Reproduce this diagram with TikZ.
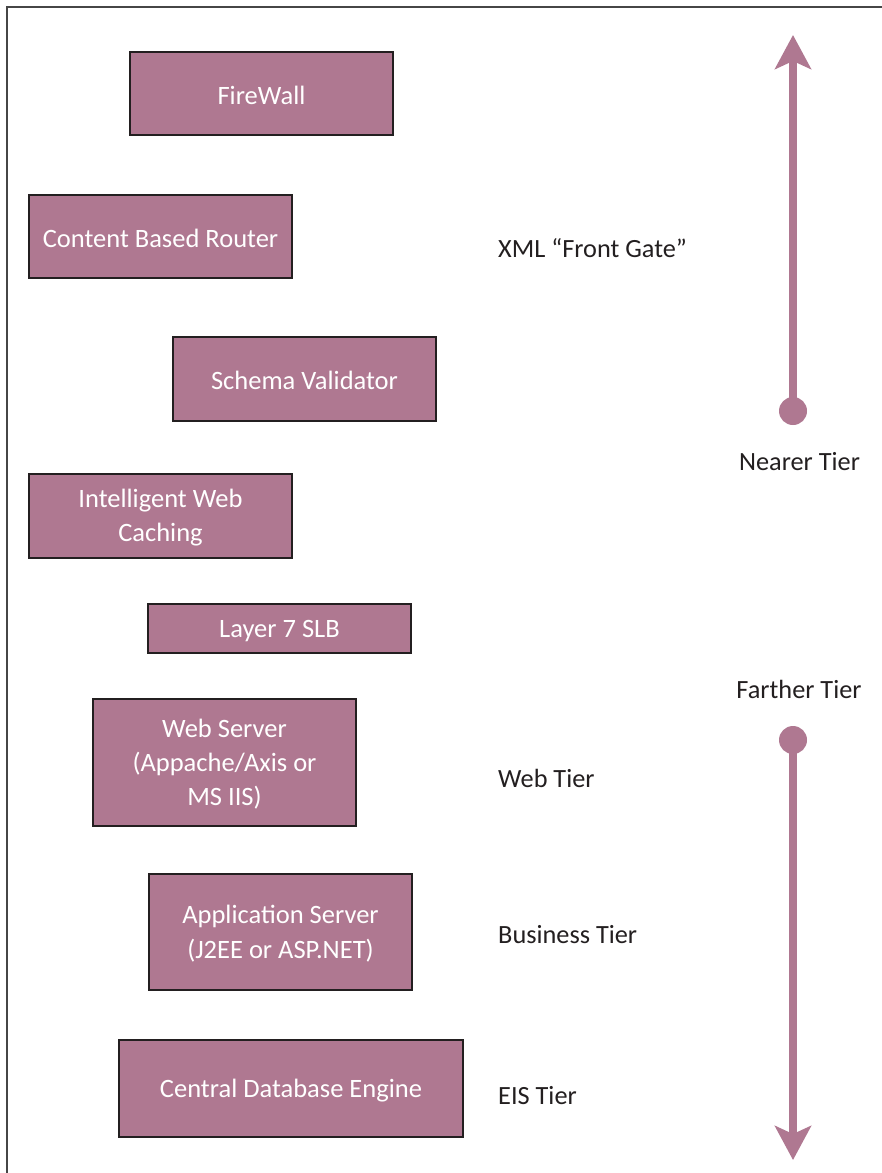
\documentclass[tikz,border=0pt]{standalone}
\usepackage{fontspec}
\setmainfont{Carlito}
\usetikzlibrary{arrows.meta}
\definecolor{mauve}{RGB}{175,120,145}
\definecolor{ink}{RGB}{35,31,32}
\definecolor{framec}{RGB}{70,70,70}
\newcommand{\toppad}{\rule{0pt}{21.8pt}}
\tikzset{
  tierbox/.style={draw=ink, line width=2pt, fill=mauve, text=white, align=center,
    font=\fontsize{26.5}{34.3}\selectfont, inner sep=0pt},
  tierlabel/.style={text=ink, font=\fontsize{26.3}{34.3}\selectfont, inner sep=0pt},
  dot/.style={circle, fill=mauve, minimum size=28pt, inner sep=0pt},
  bigarrow/.style={draw=mauve, line width=8pt, -{Stealth[length=34pt, width=36pt, inset=8pt]}},
}
\begin{document}
\begin{tikzpicture}[x=1pt,y=-1pt]
\useasboundingbox (0,0) rectangle (882,1173);
\fill[white] (0,0) rectangle (882,1173);
\draw[framec, line width=1.5pt] (7,1173) -- (7,7) -- (882,7);
% boxes
\node[tierbox, minimum width=263pt, minimum height=83pt] (fw) at (261.5,93.5) {\toppad FireWall};
\node[tierbox, minimum width=263pt, minimum height=83pt] (cbr) at (160.5,236.5) {\toppad Content Based Router};
\node[tierbox, minimum width=263pt, minimum height=84pt] (sv) at (304.5,379) {\toppad Schema Validator};
\node[tierbox, minimum width=263pt, minimum height=84pt] (iwc) at (160.5,516) {\toppad Intelligent Web\\Caching};
\node[tierbox, minimum width=263pt, minimum height=49pt] (slb) at (279.5,628.5) {\toppad Layer 7 SLB};
\node[tierbox, minimum width=263pt, minimum height=127pt] (ws) at (224.5,762.5) {\toppad Web Server\\(Appache/Axis or\\MS IIS)};
\node[tierbox, minimum width=263pt, minimum height=116pt] (as) at (280.5,932) {\toppad Application Server\\(J2EE or ASP.NET)};
\node[tierbox, minimum width=344pt, minimum height=97pt] (db) at (291,1088.5) {\toppad Central Database Engine};
% labels
\node[tierlabel, anchor=west] (xml) at (498,248) {XML “Front Gate”};
\node[tierlabel] (near) at (799.5,462) {Nearer Tier};
\node[tierlabel] (far) at (799,689) {Farther Tier};
\node[tierlabel, anchor=west] (web) at (498,778) {Web Tier};
\node[tierlabel, anchor=west] (bus) at (498,935) {Business Tier};
\node[tierlabel, anchor=west] (eis) at (498,1096) {EIS Tier};
% arrows
\node[dot] (d1) at (793,411) {};
\node[dot] (d2) at (793,740) {};
\coordinate (top) at (793,35);
\coordinate (bot) at (793,1160);
\draw[bigarrow] (d1.center) -- (top);
\draw[bigarrow] (d2.center) -- (bot);
\end{tikzpicture}
\end{document}
